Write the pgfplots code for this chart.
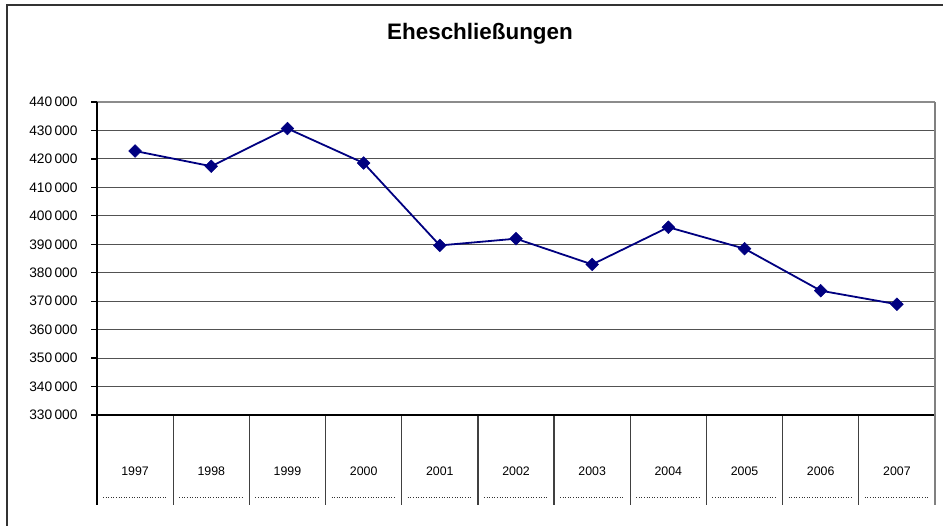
\documentclass[border=0pt]{standalone}
\usepackage{fontspec}
\setmainfont{Liberation Sans}
\usepackage{pgfplots}
\pgfplotsset{compat=1.18}
\definecolor{navyline}{RGB}{0,0,128}
\begin{document}
\begin{tikzpicture}
\useasboundingbox (0bp,0bp) rectangle (943bp,526bp);
\draw[line width=2bp, color=black!80] (7bp,0bp) -- (7bp,521bp) -- (943bp,521bp);
\begin{axis}[
  at={(97bp,111bp)}, anchor=south west,
  scale only axis, width=838bp, height=313bp,
  xmin=-0.5, xmax=10.5, ymin=330000, ymax=440000,
  xtick={0,...,10},
  xticklabels={1997,1998,1999,2000,2001,2002,2003,2004,2005,2006,2007},
  ytick={330000,340000,350000,360000,370000,380000,390000,400000,410000,420000,430000,440000},
  yticklabels={330\,000,340\,000,350\,000,360\,000,370\,000,380\,000,390\,000,400\,000,410\,000,420\,000,430\,000,440\,000},
  scaled y ticks=false,
  xticklabel style={font=\fontsize{12.4}{14}\selectfont, anchor=center, yshift=-50bp},
  yticklabel style={font=\fontsize{13.8}{15}\selectfont, xshift=-10bp},
  axis lines*=left,
  axis line style={black, line width=1.5bp},
  tick align=outside,
  major tick length=6bp,
  xtick style={draw=none},
  ytick style={black, line width=1.2bp},
  ymajorgrids,
  major grid style={color=black!68, line width=1.1bp},
  clip=false,
]
\addplot[color=navyline, line width=1.8bp, mark=square*, mark size=4.5bp,
  mark options={rotate=45, fill=navyline, draw=navyline, line width=0.5bp}]
  coordinates {
  (0,422776) (1,417420) (2,430674) (3,418550) (4,389591) (5,391963)
  (6,382911) (7,395992) (8,388451) (9,373681) (10,368922)
  };
\end{axis}
\draw[line width=1.3bp, black!45] (97bp,424bp) -- (935bp,424bp);
\foreach \k in {0,...,11} \draw[line width=1.3bp, black!75] ({(97+\k*838/11)*1bp},111bp) -- ({(97+\k*838/11)*1bp},21bp);
\draw[line width=1.5bp, black] (97bp,424bp) -- (97bp,21bp);
\draw[line width=1.5bp, black] (97bp,111bp) -- (935bp,111bp);
\draw[line width=2bp, black!50] (935bp,424bp) -- (935bp,21bp);
\foreach \k in {0,...,10} \draw[line width=0.9bp, dash pattern=on 1bp off 1.6bp, black!80] ({(97+\k*838/11+6)*1bp},29bp) -- ({(97+(\k+1)*838/11-6)*1bp},29bp);
\node[font=\fontsize{22.5}{26}\selectfont\bfseries] at (480bp,492bp) {Eheschließungen};
\end{tikzpicture}
\end{document}
